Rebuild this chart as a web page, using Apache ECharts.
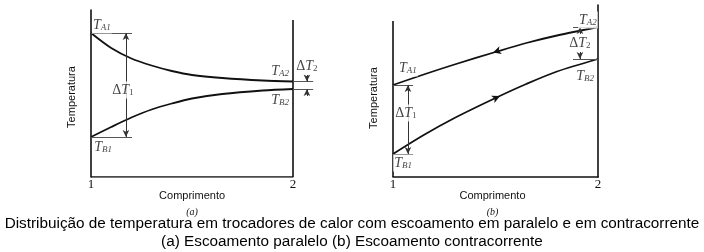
<!DOCTYPE html>
<html><head><meta charset="utf-8">
<script src="https://cdn.jsdelivr.net/npm/echarts@6/dist/echarts.min.js"></script>
<style>html,body{margin:0;padding:0;background:#fff}#c{width:704px;height:252px}</style>
</head><body><div id="c"></div>
<script>
// ---------- data ----------
const xTickValues = [1, 2];
const xTitle = 'Comprimento';
const yTitle = 'Temperatura';
const panelTags = ['(a)', '(b)'];
const captionLines = [
  'Distribuição de temperatura em trocadores de calor com escoamento em paralelo e em contracorrente',
  '(a) Escoamento paralelo (b) Escoamento contracorrente'
];

// (a) parallel flow
const paraX    = [1.0, 1.1, 1.2, 1.3, 1.4, 1.5, 1.65, 1.85, 2.0];
const paraHot  = [144, 129, 118.5, 111.5, 106, 102, 99, 96.5, 95.5];
const paraCold = [40, 50, 59.5, 67.5, 73.5, 78.5, 83, 86.5, 88];

// (b) counter flow
const counterX    = [1.0, 1.15, 1.3, 1.5, 1.65, 1.8, 2.0];
const counterHot  = [92, 102.5, 112.5, 125, 134, 141.5, 150];
const counterCold = [23, 42, 59, 79, 93, 105.5, 118];

// annotation texts
const annotNamesA = ['TA1', 'TB1', 'dT1', 'TA2', 'TB2', 'dT2'];
const annotNamesB = ['TA1', 'TB1', 'dT1', 'TA2', 'TB2', 'dT2'];
</script>
<script>
// ---------- layout / style ----------
const INK = '#111';
const GUIDE = '#555';
const annotPosA = [[1.054,152],[1.06,30],[1.158,87],[1.936,106],[1.936,77],[2.069,111]];
const annotPosB = [[1.073,109],[1.049,14],[1.063,64],[1.951,157],[1.937,101],[1.912,134]];
const wallA = 157, wallB = 156;
const yMaxA = 167, yMaxB = 172;
const xMaxA = 2.1;

function pairs(xs, ys){ return xs.map((x,i)=>[x, ys[i]]); }
function fmtName(n){
  if (n[0] === 'd') return '{d|Δ}{t|T}{n|' + n.slice(2) + '}';
  return '{t|T}{s|' + n.slice(1) + '}';
}
const rich = {
  t: {fontFamily:'Liberation Serif', fontStyle:'italic', fontSize:14, color:INK},
  d: {fontFamily:'Liberation Serif', fontSize:14, color:INK},
  s: {fontFamily:'Liberation Serif', fontStyle:'italic', fontSize:9, color:INK, verticalAlign:'bottom', padding:[6,0,0,0]},
  n: {fontFamily:'Liberation Serif', fontSize:9, color:INK, verticalAlign:'bottom', padding:[6,0,0,0]}
};
function annotSeries(names, pos, xi, yi){
  return {
    type:'scatter', xAxisIndex:xi, yAxisIndex:yi, z:10, silent:true,
    symbolSize:1, itemStyle:{color:'rgba(0,0,0,0)'},
    data: names.map((n,i)=>({name:n, value:pos[i]})),
    label:{show:true, position:'inside', rich:rich,
      formatter:p=>fmtName(p.name),
      backgroundColor:'#fff', padding:[1,1]}
  };
}
function seg(a, b, s0, s1, color){
  return [{coord:a, symbol:s0||'none', lineStyle:{color:color||GUIDE}}, {coord:b, symbol:s1||'none'}];
}
function curve(xs, ys, xi, yi, extra){
  return Object.assign({
    type:'line', xAxisIndex:xi, yAxisIndex:yi, data:pairs(xs,ys), smooth:0.3,
    symbol:'none', silent:true, lineStyle:{color:INK, width:1.8}
  }, extra||{});
}
const axisNameStyle = {fontFamily:'Liberation Sans', fontSize:11, color:INK};
function xAxisCfg(gi, max, tag, pad){
  return {
    gridIndex:gi, type:'value', min:1, max:max, interval:1,
    axisLine:{show: gi===1, lineStyle:{color:INK, width:1.6}},
    axisTick:{show:false}, splitLine:{show:false},
    axisLabel:{margin:1, fontFamily:'Liberation Serif', fontSize:13, color:INK,
      showMinLabel:true, showMaxLabel:true,
      formatter:v=> xTickValues.indexOf(v) >= 0 ? String(v) : ''},
    name:'{n|' + xTitle + '}\n{p|' + tag + '}', nameLocation:'middle', nameGap:10,
    nameMoveOverlap:false,
    nameTextStyle:{padding:pad, rich:{
      n:Object.assign({lineHeight:17}, axisNameStyle),
      p:{fontFamily:'Liberation Serif', fontStyle:'italic', fontSize:10, color:INK, lineHeight:17}}}
  };
}
function yAxisCfg(gi, max, showLine, pos, withName, pad){
  const c = {
    gridIndex:gi, type:'value', min:0, max:max, position:pos,
    axisLine:{show:showLine, lineStyle:{color:INK, width:1.6}},
    axisTick:{show:false}, axisLabel:{show:false}, splitLine:{show:false}
  };
  if (withName){
    Object.assign(c, {name:yTitle, nameLocation:'middle', nameRotate:90, nameGap:14,
      nameTextStyle:Object.assign({padding:pad}, axisNameStyle)});
  }
  return c;
}

const chart = echarts.init(document.getElementById('c'));
chart.setOption({
  animation:false,
  backgroundColor:'#fff',
  title:{text:captionLines.join('\n'), left:'center', top:210,
    textStyle:{fontFamily:'Liberation Sans', fontSize:15.3, fontWeight:'normal', color:'#000', lineHeight:18}},
  grid:[
    {left:91, top:10, width:202*(xMaxA-1), height:yMaxA},
    {left:393, top:5, width:205, height:yMaxB}
  ],
  xAxis:[ xAxisCfg(0, xMaxA, panelTags[0], [0,20,0,0]), xAxisCfg(1, 2, panelTags[1], [0,6,0,0]) ],
  yAxis:[
    yAxisCfg(0, yMaxA, true, 'left', true, [0,7,0,0]),
    yAxisCfg(1, yMaxB, false, 'left', true, [0,14,0,0]),
    yAxisCfg(1, yMaxB, true, 'right', false)
  ],
  series:[
    {type:'line', xAxisIndex:0, yAxisIndex:0, symbol:'none', silent:true,
     data:[[1,0],[2,0],[2,wallA]], lineStyle:{color:INK, width:1.6},
     markLine:{silent:true, animation:false, symbolSize:[5,7], label:{show:false},
       lineStyle:{color:GUIDE, width:1, type:'solid'},
       data:[
         seg([1,paraHot[0]],[1.203,paraHot[0]]),
         seg([1,paraCold[0]],[1.203,paraCold[0]]),
         seg([2,paraHot[paraHot.length-1]],[xMaxA,paraHot[paraHot.length-1]]),
         seg([2,paraCold[paraCold.length-1]],[xMaxA,paraCold[paraCold.length-1]]),
         seg([1.173,paraHot[0]],[1.173,paraCold[0]],'arrow','arrow','#333'),
         seg([2.069,102],[2.069,paraHot[paraHot.length-1]],'none','arrow','#333'),
         seg([2.069,81],[2.069,paraCold[paraCold.length-1]],'none','arrow','#333')
       ]}},
    curve(paraX, paraHot, 0, 0),
    curve(paraX, paraCold, 0, 0),
    {type:'line', xAxisIndex:1, yAxisIndex:1, symbol:'none', silent:true,
     data:[[1,0],[1,wallB]], lineStyle:{color:INK, width:1.6},
     markLine:{silent:true, animation:false, symbolSize:[5,7], label:{show:false},
       lineStyle:{color:GUIDE, width:1, type:'solid'},
       data:[
         seg([1,counterHot[0]],[1.098,counterHot[0]]),
         seg([1,counterCold[0]],[1.098,counterCold[0]]),
         seg([1.878,counterHot[counterHot.length-1]],[2,counterHot[counterHot.length-1]]),
         seg([1.878,counterCold[counterCold.length-1]],[2,counterCold[counterCold.length-1]]),
         seg([1.073,counterHot[0]],[1.073,counterCold[0]],'arrow','arrow','#333'),
         seg([1.912,143],[1.912,counterHot[counterHot.length-1]],'none','arrow','#333'),
         seg([1.912,125],[1.912,counterCold[counterCold.length-1]],'none','arrow','#333')
       ]}},
    curve(counterX, counterHot, 1, 1, {markPoint:{silent:true, animation:false, label:{show:false},
      itemStyle:{color:INK},
      data:[{coord:[1.488,124.4], symbol:'arrow', symbolSize:[6,8], symbolRotate:108}]}}),
    curve(counterX, counterCold, 1, 1, {markPoint:{silent:true, animation:false, label:{show:false},
      itemStyle:{color:INK},
      data:[{coord:[1.522,81], symbol:'arrow', symbolSize:[6,8], symbolRotate:-65}]}}),
    annotSeries(annotNamesA, annotPosA, 0, 0),
    annotSeries(annotNamesB, annotPosB, 1, 1)
  ]
});
</script>
</body></html>
